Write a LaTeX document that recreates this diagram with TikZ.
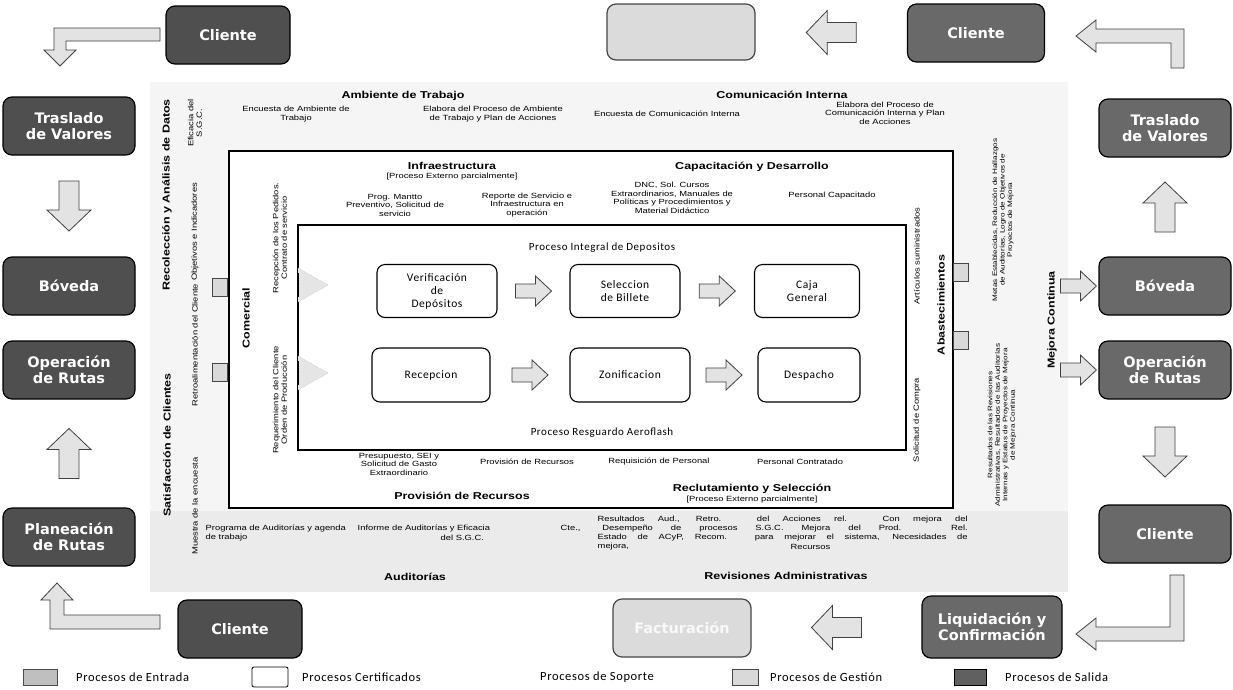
\documentclass[tikz,border=0pt]{standalone}
\usepackage{fontspec}
\setmainfont{Liberation Sans}
\newfontfamily\wide[FakeStretch=1.25]{Liberation Sans}
\newfontfamily\calfont[LetterSpace=5]{Carlito}
\newfontfamily\boxfont{DejaVu Sans}
\usetikzlibrary{calc}
\tikzset{
  ent/.style={draw=black, line width=1.2pt, rounded corners=9pt, fill=gray!62!black, text=white,
    font=\boxfont\bfseries\fontsize{14.5}{16}\selectfont, align=center,
    minimum width=132pt, minimum height=58pt, inner sep=2pt},
  sal/.style={ent, fill=gray!82!black},
  sopl/.style={ent, fill=gray!28, draw=gray!55!black, text=gray!5},
  cert/.style={draw=black, line width=1.1pt, rounded corners=8pt, fill=white,
    font=\calfont\fontsize{11.5}{13}\selectfont, align=center, inner sep=2pt},
  fatarr/.style={fill=gray!22, draw=gray!50!black, line width=0.8pt},
  hdr/.style={font=\wide\bfseries\fontsize{10}{11}\selectfont, align=center, inner sep=0.5pt},
  sm/.style={font=\wide\fontsize{7.5}{8.5}\selectfont, align=center, inner sep=0.5pt},
  xs/.style={font=\wide\fontsize{6.5}{7.5}\selectfont, align=center, inner sep=0.5pt, rotate=90},
  vsm/.style={sm, rotate=90},
  vhdr/.style={hdr, rotate=90},
  lgd/.style={font=\calfont\fontsize{12.5}{14}\selectfont, anchor=west, inner sep=0pt},
  frame/.style={draw=black, line width=1.1pt},
  gsq/.style={draw=gray!55!black, fill=gray!30, minimum width=15pt, minimum height=18pt, inner sep=0pt},
  bigarrow/.pic={\path[fatarr] (-25,-10)--(4,-10)--(4,-22)--(25,0)--(4,22)--(4,10)--(-25,10)--cycle;},
  midarrow/.pic={\path[fatarr] (-18,-7)--(2,-7)--(2,-15)--(18,0)--(2,15)--(2,7)--(-18,7)--cycle;},
  chev/.pic={\path[draw=gray!60, densely dotted, fill=gray!20] (0,-17)--(30,0)--(0,17)--cycle;
             \draw[line width=1pt] (0,-12)--(0,12);}
}
\begin{document}
\begin{tikzpicture}[x=1pt,y=-1pt]
\useasboundingbox (0,0) rectangle (1233,689);
\fill[white] (0,0) rectangle (1233,689);

% management (gestion) band
\fill[gray!8] (150,82) rectangle (1068,592);
\fill[gray!16] (150,511) rectangle (1068,592);

% support frame and certified frame
\draw[frame, fill=white] (229,151) rectangle (953,508);
\draw[frame, fill=white] (298,225) rectangle (906,450);

% ---------- outer process boxes ----------
\node[ent, minimum width=124pt] (cliTL) at (228,35) {Cliente};
\node[sopl, minimum width=148pt, minimum height=56pt] (sopT) at (681,32) {};
\node[sal, minimum width=137pt, minimum height=58pt] (cliTR) at (976,33) {Cliente};

\node[ent] (tvL) at (69,126) {Traslado\\de Valores};
\node[ent] (bovL) at (69,286) {Bóveda};
\node[ent] (opL) at (69,370) {Operación\\de Rutas};
\node[ent] (plL) at (69,537) {Planeación\\de Rutas};

\node[sal] (tvR) at (1165,128) {Traslado\\de Valores};
\node[sal] (bovR) at (1165,286) {Bóveda};
\node[sal] (opR) at (1165,370) {Operación\\de Rutas};
\node[sal] (cliR) at (1165,534) {Cliente};

\node[ent, minimum width=124pt] (cliBL) at (240,629) {Cliente};
\node[sopl, minimum width=138pt, minimum height=58pt] (sopB) at (682,628) {Facturación};
\node[sal, minimum width=140pt, minimum height=62pt] (liq) at (992,627) {Liquidación y\\Confirmación};

% block arrows between outer boxes
\pic[rotate=-90] at ($(tvL.south)!0.5!(bovL.north)$) {bigarrow};
\pic[rotate=90]  at ($(plL.north)!0.5!(opL.south)$) {bigarrow};
\pic[rotate=90]  at ($(bovR.north)!0.5!(tvR.south)$) {bigarrow};
\pic[rotate=-90] at ($(opR.south)!0.5!(cliR.north)$) {bigarrow};
\pic[rotate=180] at ($(sopT.east)!0.5!(cliTR.west)$) {bigarrow};
\pic[rotate=180] at ($(sopB.east)!0.5!(liq.west)$) {bigarrow};

% bent arrows in the corners
\path[fatarr] (160,28)--(54,28)--(54,50)--(44,50)--(60,66)--(76,50)--(66,50)--(66,41)--(160,41)--cycle;
\path[fatarr] (1184,68)--(1184,29)--(1096,29)--(1096,20)--(1076,36)--(1096,52)--(1096,43)--(1171,43)--(1171,68)--cycle;
\path[fatarr] (160,629)--(50,629)--(50,600)--(41,600)--(57,583)--(73,600)--(64,600)--(64,615)--(160,615)--cycle;
\path[fatarr] (1184,575)--(1184,641)--(1096,641)--(1096,650)--(1076,634)--(1096,618)--(1096,627)--(1170,627)--(1170,575)--cycle;

% small arrows toward the right column
\pic at ($(bovR.west)+(-20,0)$) {midarrow};
\pic at ($(opR.west)+(-20,0)$) {midarrow};

% small squares at the support frame
\node[gsq] (sqL1) at (220,287) {};
\node[gsq] (sqL2) at (220,372) {};
\node[gsq] (sqR1) at (961,272) {};
\node[gsq] (sqR2) at (961,340) {};

% ---------- management texts ----------
\node[hdr] (amb) at (403,96) {Ambiente de Trabajo};
\node[sm] (encA) at (296,114) {Encuesta de Ambiente de\\Trabajo};
\node[sm] (elaA) at (493,114) {Elabora del Proceso de Ambiente\\de Trabajo y Plan de Acciones};
\node[hdr] (comi) at (782,95) {Comunicación Interna};
\node[sm] (encC) at (667,114) {Encuesta de Comunicación Interna};
\node[sm] (elaC) at (885,113) {Elabora del Proceso de\\Comunicación Interna y Plan\\de Acciones};

\node[vhdr] (recol) at (167,195) {Recolección y Análisis de Datos};
\node[vsm] (efi) at (195,123) {Eficacia del\\S.G.C.};
\node[vsm] (obj) at (195,232) {Objetivos e Indicadores};
\node[vhdr] (sat) at (167,445) {Satisfacción de Clientes};
\node[vsm] (retro) at (195,345) {Retroalimentación del Cliente};
\node[vsm] (mue) at (195,506) {Muestra de la encuesta};

\node[xs] (metas) at (1003,220) {Metas Establecidas, Reducción de Hallazgos\\de Auditorías, Logro de Objetivos de\\Proyectos de Mejora};
\node[xs] (resrev) at (1002,425) {Resultados de las Revisiones\\Administrativas, Resultados de las Auditorías\\Internas y Estatus de Proyectos de Mejora\\de Mejora Continua};
\node[vhdr] (mc) at (1052,320) {Mejora Continua};

\node[sm, anchor=west] (r1) at (597,520) {\makebox[370pt][s]{Resultados Aud., Retro. del Acciones rel. Con mejora del}};
\node[sm, anchor=west] (r2a) at (205,529) {Programa de Auditorías y agenda};
\node[sm, anchor=west] (r2b) at (357,529) {Informe de Auditorías y Eficacia};
\node[sm, anchor=west] (r2c) at (560,529) {\makebox[407pt][s]{Cte., Desempeño de procesos S.G.C. Mejora del Prod. Rel.}};
\node[sm, anchor=west] (r3a) at (205,538) {de trabajo};
\node[sm, anchor=west] (r3b) at (440,538) {del S.G.C.};
\node[sm, anchor=west] (r3c) at (597,538) {\makebox[370pt][s]{Estado de ACyP, Recom. para mejorar el sistema, Necesidades de}};
\node[sm, anchor=west] (r4a) at (597,547) {mejora,};
\node[sm, anchor=west] (r4b) at (790,547) {Recursos};
\node[hdr] (aud) at (415,577) {Auditorías};
\node[hdr] (radm) at (786,576) {Revisiones Administrativas};

% ---------- support texts ----------
\node[hdr] (infra) at (452,166) {Infraestructura};
\node[sm] (infra2) at (452,177) {[Proceso Externo parcialmente]};
\node[sm] (prog) at (395,205) {Prog. Mantto\\Preventivo, Solicitud de\\servicio};
\node[sm] (rep) at (527,205) {Reporte de Servicio e\\Infraestructura en\\operación};
\node[hdr] (cap) at (752,167) {Capacitación y Desarrollo};
\node[sm] (dnc) at (672,198) {DNC, Sol. Cursos\\Extraordinarios, Manuales de\\Políticas y Procedimientos y\\Material Didáctico};
\node[sm] (pcap) at (832,196) {Personal Capacitado};

\node[sm] (pres) at (399,464) {Presupuesto, SEI y\\Solicitud de Gasto\\Extraordinario};
\node[sm] (prov) at (527,462) {Provisión de Recursos};
\node[sm] (reqp) at (659,462) {Requisición de Personal};
\node[sm] (pcon) at (800,462) {Personal Contratado};
\node[hdr] (provh) at (462,496) {Provisión de Recursos};
\node[hdr] (recl) at (752,489) {Reclutamiento y Selección};
\node[sm] (recl2) at (752,500) {[Proceso Externo parcialmente]};

\node[vhdr] (com) at (246,318) {Comercial};
\node[vsm] (rp) at (280,238) {Recepción de los Pedidos.\\Contrato de servicio};
\node[vsm] (rc) at (280,400) {Requerimiento del Cliente\\Orden de Producción};
\node[vhdr] (abas) at (941,305) {Abastecimientos};
\node[vsm] (art) at (917,256) {Artículos suministrados};
\node[vsm] (sol) at (917,420) {Solicitud de Compra};

% ---------- certified processes ----------
\node[font=\calfont\fontsize{11}{13}\selectfont] (pid) at (602,248) {Proceso Integral de Depositos};
\node[cert, minimum width=120pt, minimum height=53pt] (ver) at (437,291) {Verificación\\de\\Depósitos};
\node[cert, minimum width=110pt, minimum height=53pt] (sel) at (625,291) {Seleccion\\de Billete};
\node[cert, minimum width=105pt, minimum height=53pt] (caja) at (807,291) {Caja\\General};
\node[cert, minimum width=118pt, minimum height=54pt] (rec) at (431,375) {Recepcion};
\node[cert, minimum width=120pt, minimum height=54pt] (zon) at (630,375) {Zonificacion};
\node[cert, minimum width=102pt, minimum height=54pt] (des) at (809,375) {Despacho};
\node[font=\calfont\fontsize{11}{13}\selectfont] (pra) at (602,433) {Proceso Resguardo Aeroflash};

\pic at ($(ver.east)!0.5!(sel.west)$) {midarrow};
\pic at ($(sel.east)!0.5!(caja.west)$) {midarrow};
\pic at ($(rec.east)!0.5!(zon.west)$) {midarrow};
\pic at ($(zon.east)!0.5!(des.west)$) {midarrow};
\pic at (298,285) {chev};
\pic at (298,373) {chev};

% ---------- legend ----------
\node[draw=gray!60!black, fill=gray!50, minimum width=34pt, minimum height=16pt, inner sep=0pt] (lg1) at (40,677) {};
\node[lgd] (lt1) at (76,677) {Procesos de Entrada};
\node[draw=black, line width=0.8pt, rounded corners=2pt, minimum width=36pt, minimum height=20pt, inner sep=0pt] (lg2) at (270,677) {};
\node[lgd] (lt2) at (302,677) {Procesos Certificados};
\node[lgd] (lt3) at (540,677) {Procesos de Soporte};
\node[draw=gray!55!black, fill=gray!30, minimum width=26pt, minimum height=16pt, inner sep=0pt] (lg4) at (745,677) {};
\node[lgd] (lt4) at (770,677) {Procesos de Gestión};
\node[draw=black, fill=gray!75!black, minimum width=32pt, minimum height=16pt, inner sep=0pt] (lg5) at (970,677) {};
\node[lgd] (lt5) at (1005,677) {Procesos de Salida};
\end{tikzpicture}
\end{document}
